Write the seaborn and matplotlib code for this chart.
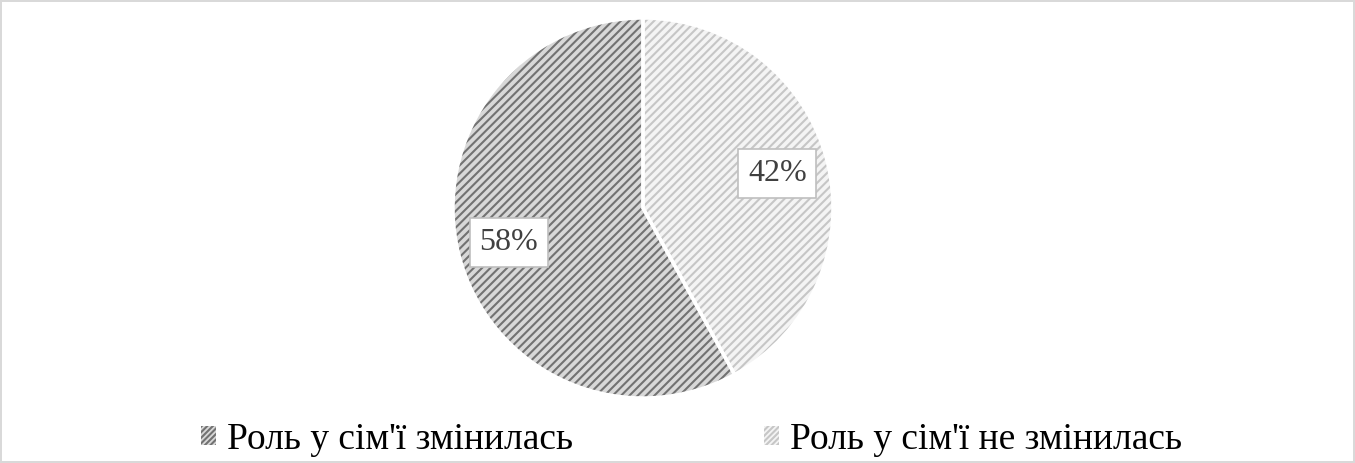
import matplotlib
matplotlib.use("Agg")
import matplotlib.pyplot as plt
import seaborn as sns
from matplotlib.patches import Patch

sns.set_theme(style="white")
plt.rcParams['font.family'] = ['Liberation Serif', 'DejaVu Serif']
plt.rcParams['hatch.linewidth'] = 1.5

categories = ["Роль у сім'ї змінилась", "Роль у сім'ї не змінилась"]
values = [58, 42]
face_colors = ["#d8d8d8", "#f4f4f4"]
hatch_colors = ["#727272", "#c6c6c6"]

W, H = 1355, 463
fig = plt.figure(figsize=(W / 100, H / 100), dpi=100)
fig.patch.set_facecolor("white")
fig.patch.set_edgecolor("#d9d9d9")
fig.patch.set_linewidth(1.5)

cx, cy, r = 643, H - 208, 190
ax = fig.add_axes([(cx - r) / W, (cy - r) / H, 2 * r / W, 2 * r / H])
ax.set_aspect("equal")

order = [1, 0]
vals = [values[i] for i in order]

wedges, texts, autotexts = ax.pie(
    vals, startangle=90, counterclock=False, radius=1.0,
    colors=[face_colors[i] for i in order],
    autopct=lambda p: f"{p:.0f}%", pctdistance=0.73,
    wedgeprops=dict(linewidth=0),
    textprops=dict(fontsize=23, color="#404040"))
for w, i in zip(wedges, order):
    w.set_hatch("////")
    w.set_edgecolor(hatch_colors[i])
    w.set_linewidth(0)
for t in autotexts:
    t.set_bbox(dict(facecolor="white", edgecolor="#bfbfbf", boxstyle="square,pad=0.3", linewidth=1.2))
    t.set_clip_on(False)

ax.pie(vals, startangle=90, counterclock=False, radius=1.0,
       colors=["none", "none"],
       wedgeprops=dict(linewidth=2.5, edgecolor="white", fill=False))

ax.set_xlim(-1, 1)
ax.set_ylim(-1, 1)

handles = []
for i in range(2):
    p = Patch(facecolor=face_colors[i], edgecolor=hatch_colors[i], hatch="//////", linewidth=0)
    handles.append(p)
leg = fig.legend(handles, categories, loc="center left", ncol=2, frameon=False,
                 bbox_to_anchor=(0.148, 0.05), fontsize=27, handlelength=0.4, handleheight=0.4,
                 handletextpad=0.3, columnspacing=5.1, borderaxespad=0, borderpad=0)
for t in leg.get_texts():
    t.set_color("black")

fig.savefig("out.png", dpi=100)
